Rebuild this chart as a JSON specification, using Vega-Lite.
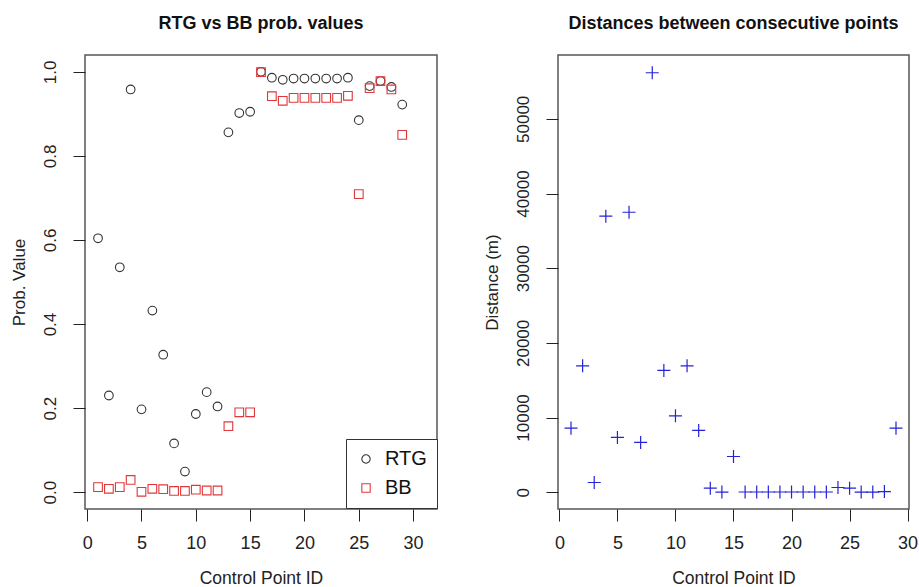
{
  "$schema": "https://vega.github.io/schema/vega-lite/v6.json",
  "padding": {"left": 9, "top": 14, "right": 0, "bottom": 0},
  "autosize": {"type": "pad"},
  "background": "white",
  "spacing": 121,
  "bounds": "flush",
  "data": {"values": [
    {"id": 1, "RTG": 0.604, "BB": 0.012, "dist": 8580},
    {"id": 2, "RTG": 0.230, "BB": 0.008, "dist": 16930},
    {"id": 3, "RTG": 0.535, "BB": 0.012, "dist": 1300},
    {"id": 4, "RTG": 0.958, "BB": 0.029, "dist": 36960},
    {"id": 5, "RTG": 0.197, "BB": 0.001, "dist": 7330},
    {"id": 6, "RTG": 0.432, "BB": 0.008, "dist": 37490},
    {"id": 7, "RTG": 0.327, "BB": 0.007, "dist": 6660},
    {"id": 8, "RTG": 0.116, "BB": 0.003, "dist": 56170},
    {"id": 9, "RTG": 0.049, "BB": 0.003, "dist": 16310},
    {"id": 10, "RTG": 0.186, "BB": 0.006, "dist": 10230},
    {"id": 11, "RTG": 0.238, "BB": 0.004, "dist": 16930},
    {"id": 12, "RTG": 0.204, "BB": 0.004, "dist": 8270},
    {"id": 13, "RTG": 0.856, "BB": 0.157, "dist": 540},
    {"id": 14, "RTG": 0.902, "BB": 0.190, "dist": 20},
    {"id": 15, "RTG": 0.905, "BB": 0.190, "dist": 4780},
    {"id": 16, "RTG": 1.0, "BB": 0.999, "dist": 30},
    {"id": 17, "RTG": 0.986, "BB": 0.942, "dist": 30},
    {"id": 18, "RTG": 0.981, "BB": 0.931, "dist": 30},
    {"id": 19, "RTG": 0.984, "BB": 0.938, "dist": 30},
    {"id": 20, "RTG": 0.984, "BB": 0.938, "dist": 30},
    {"id": 21, "RTG": 0.984, "BB": 0.938, "dist": 30},
    {"id": 22, "RTG": 0.984, "BB": 0.938, "dist": 30},
    {"id": 23, "RTG": 0.984, "BB": 0.938, "dist": 30},
    {"id": 24, "RTG": 0.986, "BB": 0.943, "dist": 630},
    {"id": 25, "RTG": 0.885, "BB": 0.709, "dist": 540},
    {"id": 26, "RTG": 0.966, "BB": 0.961, "dist": 20},
    {"id": 27, "RTG": 0.978, "BB": 0.978, "dist": 20},
    {"id": 28, "RTG": 0.964, "BB": 0.958, "dist": 90},
    {"id": 29, "RTG": 0.922, "BB": 0.850, "dist": 8580}
  ]},
  "config": {
    "view": {"stroke": "#555555", "strokeWidth": 1.5},
    "axis": {
      "domain": false,
      "grid": false,
      "tickColor": "#222222",
      "tickSize": 12,
      "labelColor": "#222222",
      "titleColor": "#222222",
      "labelFont": "Liberation Sans",
      "titleFont": "Liberation Sans",
      "titleFontWeight": "normal"
    },
    "axisX": {"labelFontSize": 18, "labelPadding": 13, "titleFontSize": 17.5, "titlePadding": 17},
    "axisY": {"labelFontSize": 17, "labelAngle": 270, "labelAlign": "center", "labelBaseline": "bottom", "labelPadding": 14, "titleFontSize": 17, "titlePadding": 13},
    "title": {"font": "Liberation Sans", "fontSize": 18, "fontWeight": "bold", "color": "#111111", "anchor": "middle", "offset": 22}
  },
  "hconcat": [
    {
      "width": 352,
      "height": 454,
      "title": "RTG vs BB prob. values",
      "transform": [{"fold": ["RTG", "BB"], "as": ["series", "value"]}],
      "mark": {"type": "point", "filled": false, "strokeWidth": 1.1, "size": 75, "opacity": 1},
      "encoding": {
        "x": {"field": "id", "type": "quantitative", "title": "Control Point ID",
              "scale": {"domain": [-0.2, 32.2], "nice": false, "zero": false},
              "axis": {"values": [0, 5, 10, 15, 20, 25, 30]}},
        "y": {"field": "value", "type": "quantitative", "title": "Prob. Value",
              "scale": {"domain": [-0.04, 1.04], "nice": false, "zero": false},
              "axis": {"values": [0, 0.2, 0.4, 0.6, 0.8, 1.0], "format": ".1f"}},
        "color": {"field": "series", "type": "nominal", "title": null,
                  "scale": {"domain": ["RTG", "BB"], "range": ["#333333", "#e0383a"]},
                  "legend": {"orient": "none", "legendX": 261, "legendY": 384, "padding": 10, "strokeColor": "#333333", "fillColor": "white",
                             "labelFont": "Liberation Sans", "labelFontSize": 20, "labelColor": "#111111", "labelOffset": 9,
                             "rowPadding": 9, "symbolSize": 70, "symbolStrokeWidth": 1.1}},
        "shape": {"field": "series", "type": "nominal", "title": null,
                  "scale": {"domain": ["RTG", "BB"], "range": ["circle", "square"]}}
      }
    },
    {
      "width": 351,
      "height": 454,
      "title": "Distances between consecutive points",
      "mark": {"type": "point", "shape": "M-1,0H1M0,-1V1", "filled": false, "size": 170, "stroke": "#2323d8", "strokeWidth": 1.2, "opacity": 1},
      "encoding": {
        "x": {"field": "id", "type": "quantitative", "title": "Control Point ID",
              "scale": {"domain": [-0.12, 30.12], "nice": false, "zero": false},
              "axis": {"values": [0, 5, 10, 15, 20, 25, 30]}},
        "y": {"field": "dist", "type": "quantitative", "title": "Distance (m)",
              "scale": {"domain": [-2250, 58550], "nice": false, "zero": false},
              "axis": {"values": [0, 10000, 20000, 30000, 40000, 50000], "format": "d"}}
      }
    }
  ]
}
